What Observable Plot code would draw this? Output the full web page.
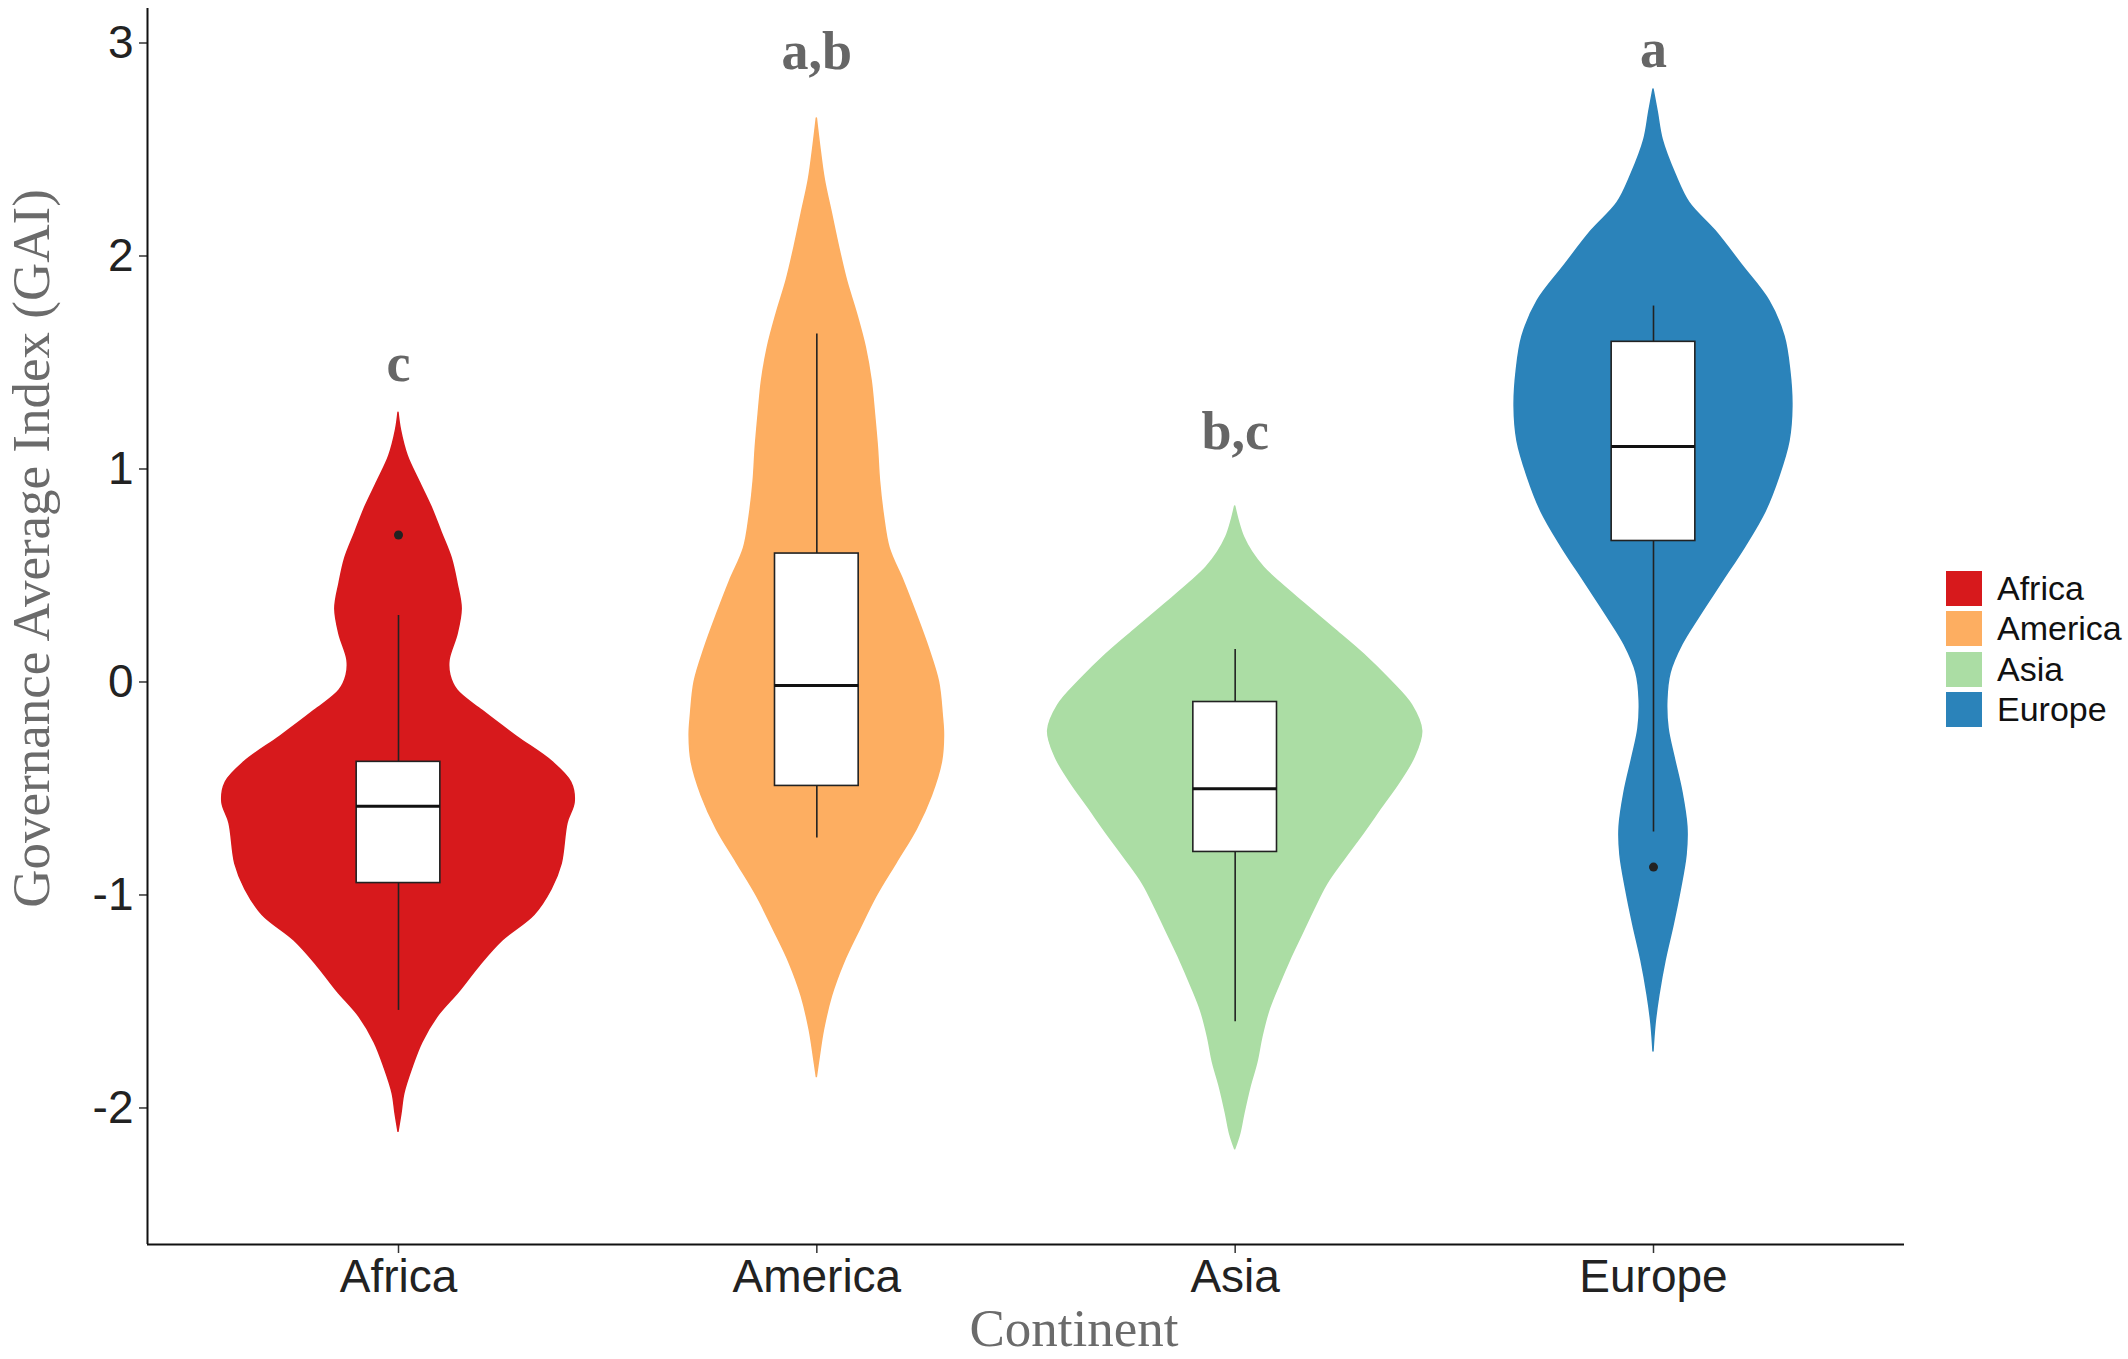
<!DOCTYPE html>
<html>
<head>
<meta charset="utf-8">
<script src="https://cdn.jsdelivr.net/npm/d3@7"></script>
<script src="https://cdn.jsdelivr.net/npm/@observablehq/plot@0.6"></script>
<style>
  html, body { margin: 0; padding: 0; background: #fff; }
  #wrap { position: relative; width: 2128px; height: 1359px; overflow: hidden; }
  #legend { position: absolute; left: 1946px; top: 568px; font-family: "Liberation Sans", Arial, sans-serif; font-size: 34px; color: #111; }
  .row { display: flex; align-items: center; height: 40.5px; }
  .sw { width: 36px; height: 35px; margin-right: 15px; }
</style>
</head>
<body>
<div id="wrap"><div id="legend"></div></div>
<script>
// ---- data ----
const continents = ["Africa", "America", "Asia", "Europe"];
const colors = ["#d7191c", "#fdae61", "#abdda4", "#2b83ba"];

// violin density outlines: value (y) and half-width (in category units)
const africaY = [1.264, 1.181, 1.061, 0.941, 0.821, 0.702, 0.582, 0.462, 0.343, 0.223, 0.103, 0.031, -0.040, -0.136, -0.256, -0.376, -0.472, -0.567, -0.663, -0.855, -0.974, -1.094, -1.214, -1.333, -1.453, -1.573, -1.693, -1.813, -1.932, -2.028, -2.112];
const africaW = [0, 0.006, 0.022, 0.050, 0.079, 0.103, 0.127, 0.141, 0.151, 0.141, 0.122, 0.124, 0.141, 0.201, 0.282, 0.368, 0.413, 0.421, 0.404, 0.390, 0.366, 0.325, 0.249, 0.194, 0.146, 0.093, 0.057, 0.033, 0.014, 0.007, 0];

const americaY = [2.646, 2.514, 2.357, 2.200, 2.043, 1.885, 1.728, 1.571, 1.414, 1.257, 1.100, 0.942, 0.785, 0.628, 0.471, 0.314, 0.157, 0.000, -0.158, -0.252, -0.377, -0.535, -0.692, -0.849, -1.006, -1.163, -1.320, -1.477, -1.635, -1.760, -1.855];
const americaW = [0, 0.008, 0.019, 0.036, 0.053, 0.072, 0.096, 0.117, 0.131, 0.139, 0.146, 0.151, 0.160, 0.174, 0.208, 0.239, 0.268, 0.292, 0.301, 0.304, 0.299, 0.275, 0.239, 0.191, 0.143, 0.103, 0.065, 0.036, 0.017, 0.007, 0];

const asiaY = [0.824, 0.752, 0.680, 0.608, 0.536, 0.464, 0.368, 0.249, 0.129, 0.009, -0.110, -0.230, -0.350, -0.470, -0.589, -0.709, -0.829, -0.949, -1.068, -1.188, -1.308, -1.427, -1.547, -1.667, -1.787, -1.906, -2.026, -2.122, -2.194];
const asiaW = [0, 0.009, 0.021, 0.041, 0.069, 0.108, 0.165, 0.237, 0.308, 0.370, 0.423, 0.447, 0.430, 0.394, 0.351, 0.308, 0.263, 0.220, 0.189, 0.160, 0.131, 0.105, 0.081, 0.065, 0.053, 0.036, 0.022, 0.012, 0];

const europeY = [2.782, 2.677, 2.545, 2.381, 2.249, 2.117, 1.953, 1.788, 1.623, 1.459, 1.294, 1.130, 0.965, 0.800, 0.636, 0.471, 0.306, 0.175, 0.043, -0.089, -0.220, -0.352, -0.517, -0.681, -0.813, -0.978, -1.142, -1.307, -1.471, -1.603, -1.735];
const europeW = [0, 0.010, 0.022, 0.053, 0.086, 0.148, 0.213, 0.277, 0.313, 0.327, 0.332, 0.325, 0.301, 0.268, 0.220, 0.165, 0.110, 0.069, 0.041, 0.033, 0.036, 0.050, 0.069, 0.081, 0.079, 0.065, 0.048, 0.029, 0.014, 0.005, 0];

// boxplot statistics
const boxQ1 = [-0.944, -0.488, -0.798, 0.662];
const boxMedian = [-0.584, -0.016, -0.501, 1.106];
const boxQ3 = [-0.375, 0.603, -0.094, 1.597];
const whiskerLow = [-1.542, -0.733, -1.595, -0.704];
const whiskerHigh = [0.312, 1.634, 0.153, 1.765];
const outlierContinent = ["Africa", "Europe"];
const outlierValue = [0.690, -0.869];

// significance letters (value at text baseline)
const sigLetters = ["c", "a,b", "b,c", "a"];
const sigY = [1.415, 2.876, 1.094, 2.887];

const yTicks = [-2, -1, 0, 1, 2, 3];
const yTitle = "Governance Average Index (GAI)";
const xTitle = "Continent";

// ---- build tables ----
const profiles = [[africaY, africaW], [americaY, americaW], [asiaY, asiaW], [europeY, europeW]];
const violin = [];
profiles.forEach(([ys, ws], i) => ys.forEach((y, k) => violin.push({c: continents[i], pos: i + 1, y, w: ws[k]})));
const boxes = continents.map((c, i) => ({c, pos: i + 1, q1: boxQ1[i], med: boxMedian[i], q3: boxQ3[i], lo: whiskerLow[i], hi: whiskerHigh[i]}));
const outliers = outlierContinent.map((c, k) => ({pos: continents.indexOf(c) + 1, y: outlierValue[k]}));
const letters = sigLetters.map((t, i) => ({pos: i + 1, y: sigY[i], t}));

const serif = "Liberation Serif, Times New Roman, serif";
const boxHalf = 0.1;

const chart = Plot.plot({
  width: 2128,
  height: 1359,
  marginLeft: 147,
  marginRight: 224,
  marginTop: 8,
  marginBottom: 115,
  style: {fontFamily: "Liberation Sans, Arial, sans-serif", fontSize: "46px", color: "#222", background: "white"},
  x: {type: "linear", domain: [0.4, 4.6]},
  y: {domain: [-2.641, 3.162]},
  color: {domain: continents, range: colors},
  marks: [
    Plot.areaX(violin, {y: "y", x1: d => d.pos - d.w, x2: d => d.pos + d.w, z: "c", fill: "c", stroke: "c", strokeWidth: 1.5, curve: "catmull-rom"}),
    Plot.ruleX(boxes, {x: "pos", y1: "q3", y2: "hi", stroke: "#222", strokeWidth: 1.6}),
    Plot.ruleX(boxes, {x: "pos", y1: "q1", y2: "lo", stroke: "#222", strokeWidth: 1.6}),
    Plot.rect(boxes, {x1: d => d.pos - boxHalf, x2: d => d.pos + boxHalf, y1: "q1", y2: "q3", fill: "white", stroke: "#222", strokeWidth: 1.6}),
    Plot.ruleY(boxes, {y: "med", x1: d => d.pos - boxHalf, x2: d => d.pos + boxHalf, stroke: "#111", strokeWidth: 3}),
    Plot.dot(outliers, {x: "pos", y: "y", r: 4.5, fill: "#222", stroke: null}),
    Plot.text(letters, {x: "pos", y: "y", text: "t", lineAnchor: "bottom", fontFamily: serif, fontWeight: "bold", fontSize: 54, fill: "#666"}),
    Plot.axisY({ticks: yTicks, tickFormat: d => String(d), tickSize: 8, tickPadding: 6, fontSize: 46, stroke: "#333", strokeWidth: 1.5, label: null}),
    Plot.axisX({ticks: [1, 2, 3, 4], tickFormat: d => continents[d - 1], tickSize: 9, tickPadding: 6, fontSize: 46, stroke: "#333", strokeWidth: 1.5, label: null}),
    Plot.ruleX([0.4], {stroke: "#111", strokeWidth: 2}),
    Plot.ruleY([-2.641], {stroke: "#111", strokeWidth: 2}),
    Plot.text([yTitle], {frameAnchor: "left", dx: -115, dy: -78, rotate: -90, fontFamily: serif, fontSize: 53, fill: "#6b6b6b", lineAnchor: "middle", textAnchor: "middle"}),
    Plot.text([xTitle], {frameAnchor: "bottom", dx: 48, dy: 85, fontFamily: serif, fontSize: 53, fill: "#6b6b6b", lineAnchor: "middle", textAnchor: "middle"})
  ]
});
document.getElementById("wrap").prepend(chart);

const legend = document.getElementById("legend");
continents.forEach((c, i) => {
  const row = document.createElement("div");
  row.className = "row";
  const sw = document.createElement("div");
  sw.className = "sw";
  sw.style.background = colors[i];
  const lab = document.createElement("span");
  lab.textContent = c;
  row.appendChild(sw);
  row.appendChild(lab);
  legend.appendChild(row);
});
</script>
</body>
</html>
